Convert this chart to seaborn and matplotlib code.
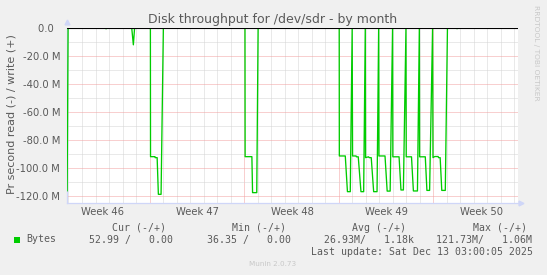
import matplotlib
matplotlib.use("Agg")
import matplotlib.pyplot as plt
import matplotlib.transforms as mtrans
from matplotlib.patches import Rectangle
from matplotlib.ticker import FixedLocator, FuncFormatter
import pandas as pd
import seaborn as sns

# ---------------- data ----------------
# time in days since Monday 2025-11-10 00:00 (start of ISO week 46)
days = [0.90, 0.97,
        3.74, 3.78, 3.82,
        5.68, 5.80, 5.89,
        7.06, 7.07, 7.40, 7.41, 7.56, 7.65, 7.85, 8.02,
        14.06, 14.07, 14.57, 14.62, 14.93, 15.03,
        21.03, 21.04, 21.48, 21.64, 21.85, 21.99,
        22.02, 22.28, 22.30, 22.44, 22.64, 22.84, 22.96,
        22.98, 23.20, 23.25, 23.40, 23.58, 23.83, 23.95,
        23.97, 24.42, 24.58, 24.80, 24.98,
        25.00, 25.46, 25.60, 25.78, 25.97,
        25.99, 26.38, 26.52, 26.82, 26.96,
        26.98, 27.40, 27.52, 27.72, 27.94,
        27.97, 28.10, 28.35, 28.38, 28.50, 28.62, 28.88, 29.04,
        29.70, 29.75, 29.80, 33.12]
# read throughput in MB/s (drawn negative, munin style)
read_mbytes = [-116.4, 0.0,
               0.0, -0.6, 0.0,
               0.0, -12.0, 0.0,
               0.0, -91.9, -91.9, -92.6, -92.6, -118.8, -118.8, 0.0,
               0.0, -91.9, -91.9, -117.6, -117.6, 0.0,
               0.0, -91.4, -91.4, -116.9, -116.9, 0.0,
               -91.4, -91.4, -92.0, -92.0, -116.9, -116.9, 0.0,
               -92.6, -92.0, -92.6, -92.6, -116.9, -116.9, 0.0,
               -91.4, -91.4, -116.5, -116.5, 0.0,
               -92.0, -92.0, -115.7, -115.7, 0.0,
               -92.0, -92.0, -116.4, -116.4, 0.0,
               -92.0, -92.0, -116.0, -116.0, 0.0,
               -92.6, -91.8, -91.8, -92.6, -92.6, -116.0, -116.0, 0.0,
               0.0, -0.5, 0.0, 0.0]

week_starts = [0, 7, 14, 21, 28]
week_labels = ["Week 46", "Week 47", "Week 48", "Week 49", "Week 50"]
y_major = [0, -20, -40, -60, -80, -100, -120]
y_minor = [-10, -30, -50, -70, -90, -110]

title = "Disk throughput for /dev/sdr - by month"
ylabel = "Pr second read (-) / write (+)"
legend_headers = ["Cur (-/+)", "Min (-/+)", "Avg (-/+)", "Max (-/+)"]
legend_values = ["52.99 /   0.00", "36.35 /   0.00", "26.93M/   1.18k", "121.73M/   1.06M"]
series_name = "Bytes"
last_update = "Last update: Sat Dec 13 03:00:05 2025"
footer = "Munin 2.0.73"
side_text = "RRDTOOL / TOBI OETIKER"

# ---------------- style ----------------
sns.set_theme(style="white")
plt.rcParams["font.family"] = ["DejaVu Sans"]

W, H = 547, 275
FONT_COL = "#5a5a5a"
GREEN = "#00CC00"

fig = plt.figure(figsize=(W / 100, H / 100), dpi=100, facecolor="#F0F0F0")
ax_left, ax_right, ax_top, ax_bot = 67, 518, 27.6, 203
ax = fig.add_axes([ax_left / W, 1 - ax_bot / H, (ax_right - ax_left) / W, (ax_bot - ax_top) / H])
ax.set_facecolor("white")

df = pd.DataFrame({"day": days, "read": read_mbytes})
sns.lineplot(data=df, x="day", y="read", color=GREEN, linewidth=0.95,
             sort=False, estimator=None, ax=ax, zorder=5)

ax.set_xlim(0.89, 34.26)
ax.set_ylim(-125.0, 0.3)

# grid
day_ticks = [d for d in range(1, 35) if d not in week_starts]
ax.xaxis.set_major_locator(FixedLocator(week_starts[1:]))
ax.xaxis.set_minor_locator(FixedLocator(day_ticks))
ax.yaxis.set_major_locator(FixedLocator(y_major))
ax.yaxis.set_minor_locator(FixedLocator(y_minor))
ax.grid(which="minor", color="#D4D4D4", linestyle=(0, (1, 1)), linewidth=0.72, zorder=1)
ax.grid(which="major", color="#F2A0A0", linestyle=(0, (1, 1)), linewidth=0.72, zorder=1)
ax.set_axisbelow(True)

ax.axhline(0, color="black", linewidth=0.8, zorder=6)


def yfmt(v, pos):
    if abs(v) < 1e-9:
        return "0.0  "
    return f"{v:.1f} M"


ax.yaxis.set_major_formatter(FuncFormatter(yfmt))
ax.tick_params(axis="y", which="both", length=0, pad=5, labelsize=7.2, labelcolor=FONT_COL)
ax.tick_params(axis="x", which="major", length=2, color="#F08080", labelbottom=False)
ax.tick_params(axis="x", which="minor", length=0, labelbottom=False)
ax.set_xlabel("")
ax.set_ylabel("")

for s in ["top", "right"]:
    ax.spines[s].set_visible(False)
for s in ["left", "bottom"]:
    ax.spines[s].set_color("#CFD6F8")
    ax.spines[s].set_linewidth(0.9)
ax.plot([0], [1.03], marker="^", color="#CFD6F8", markersize=3.5, transform=ax.transAxes, clip_on=False)
ax.plot([1.006], [0], marker=">", color="#CFD6F8", markersize=3.5, transform=ax.transAxes, clip_on=False)

# week labels centred in each week
blend = mtrans.blended_transform_factory(ax.transData, fig.transFigure)
for ws, lab in zip(week_starts, week_labels):
    ax.text(ws + 3.55, 1 - 211.7 / H, lab, transform=blend, ha="center", va="center",
            fontsize=7.2, color=FONT_COL)


def fx(x):
    return x / W


def fy(y):
    return 1 - y / H


fig.text(fx(273), fy(19.3), title, ha="center", va="center", fontsize=9, color=FONT_COL)
fig.text(fx(12), fy(114), ylabel, ha="center", va="center", rotation=90, fontsize=8, color=FONT_COL)
fig.text(fx(536), fy(53), side_text, ha="center", va="center", rotation=270, fontsize=5.4, color="#C8C8C8")

mono = "DejaVu Sans Mono"
for x, h in zip([111.7, 231.7, 351.7, 473.3], legend_headers):
    fig.text(fx(x), fy(228), h, ha="left", va="center", fontsize=7.1, family=mono, color=FONT_COL)
fig.patches.append(Rectangle((fx(14), fy(242.5)), 6 / W, 6 / H, transform=fig.transFigure,
                             facecolor=GREEN, edgecolor="none"))
fig.text(fx(26.7), fy(239.5), series_name, ha="left", va="center", fontsize=7.1, family=mono, color=FONT_COL)
for x, v in zip([89.3, 207.3, 324, 435.7], legend_values):
    fig.text(fx(x), fy(239.5), v, ha="left", va="center", fontsize=7.1, family=mono, color=FONT_COL)
fig.text(fx(532.7), fy(251.8), last_update, ha="right", va="center", fontsize=7.1, family=mono, color=FONT_COL)
fig.text(fx(272.5), fy(264), footer, ha="center", va="center", fontsize=5.2, color="#C8C8C8")

fig.savefig("out.png", dpi=100, facecolor=fig.get_facecolor())
